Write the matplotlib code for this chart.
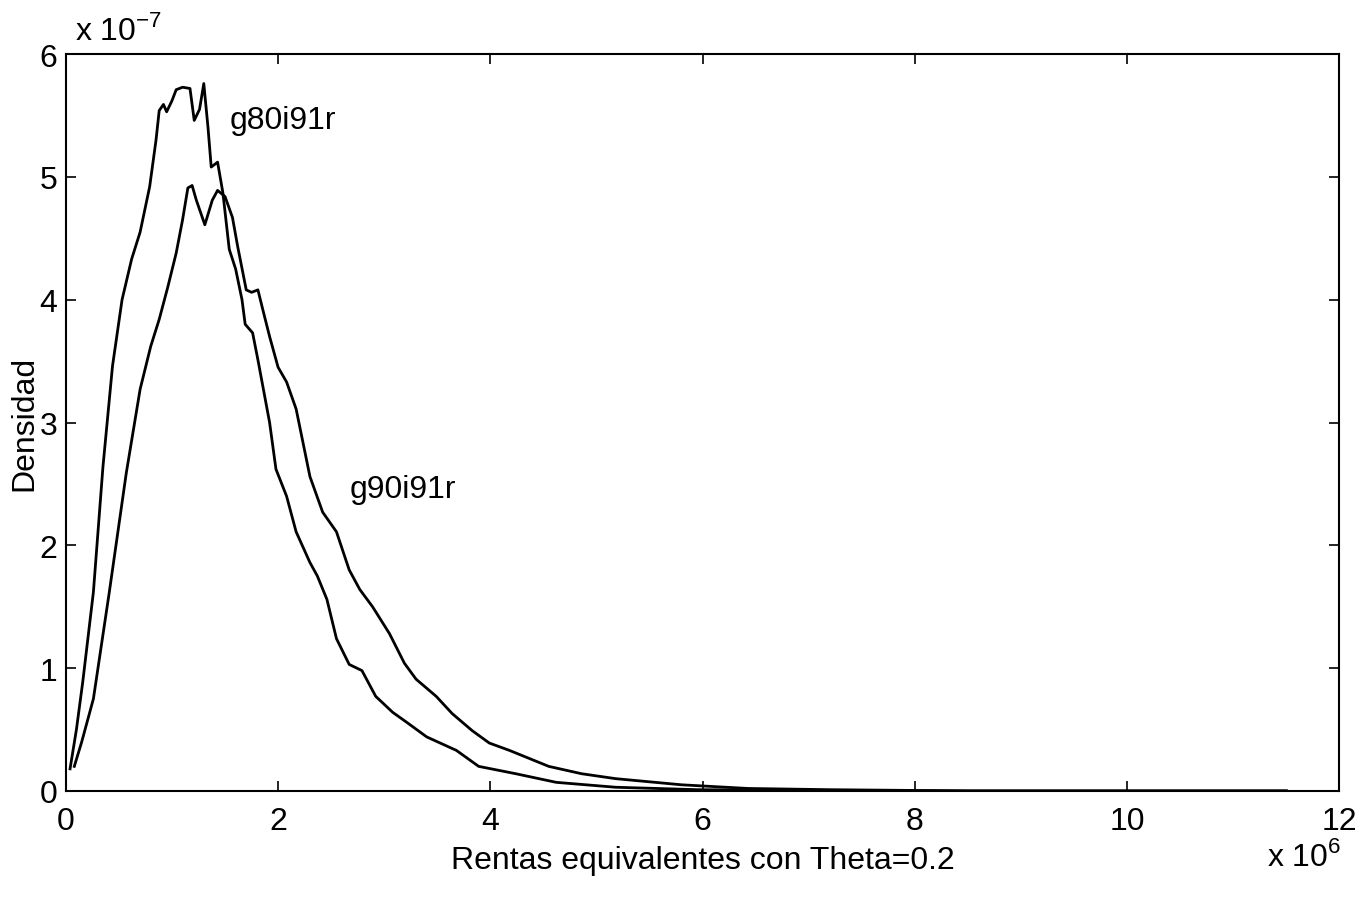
import matplotlib
matplotlib.use("Agg")
import matplotlib.pyplot as plt

plt.rcParams["font.family"] = ["Liberation Sans", "DejaVu Sans"]

# density curves (x in 1e6, y in 1e-7)
x_g80 = [0.04, 0.10, 0.16, 0.26, 0.35, 0.44, 0.53, 0.62, 0.70, 0.79, 0.85, 0.88,
         0.92, 0.95, 1.00, 1.04, 1.10, 1.17, 1.21, 1.26, 1.30, 1.34, 1.37, 1.43,
         1.48, 1.54, 1.60, 1.66, 1.69, 1.76, 1.81, 1.92, 1.98, 2.08, 2.17, 2.30,
         2.37, 2.46, 2.55, 2.67, 2.79, 2.92, 3.08, 3.21, 3.40, 3.68, 3.89, 4.24,
         4.62, 5.18, 5.96, 7.0, 8.5, 10.0, 11.5]
y_g80 = [0.18, 0.50, 0.89, 1.62, 2.64, 3.46, 4.00, 4.33, 4.55, 4.92, 5.30, 5.54,
         5.59, 5.53, 5.62, 5.71, 5.73, 5.72, 5.46, 5.55, 5.76, 5.40, 5.08, 5.12,
         4.87, 4.41, 4.25, 4.00, 3.80, 3.73, 3.51, 3.00, 2.62, 2.40, 2.11, 1.86,
         1.75, 1.56, 1.24, 1.03, 0.98, 0.77, 0.64, 0.56, 0.44, 0.33, 0.20, 0.14,
         0.07, 0.03, 0.01, 0.005, 0.0, 0.0, 0.0]

x_g90 = [0.08, 0.15, 0.26, 0.41, 0.57, 0.70, 0.80, 0.88, 0.96, 1.04, 1.10, 1.15,
         1.19, 1.23, 1.31, 1.38, 1.43, 1.50, 1.57, 1.62, 1.70, 1.75, 1.81, 1.85,
         1.92, 2.00, 2.08, 2.17, 2.30, 2.42, 2.55, 2.67, 2.77, 2.89, 3.05, 3.19,
         3.30, 3.49, 3.64, 3.83, 3.99, 4.18, 4.55, 4.86, 5.18, 5.80, 6.43, 7.2,
         8.5, 10.0, 11.5]
y_g90 = [0.20, 0.40, 0.75, 1.62, 2.59, 3.27, 3.62, 3.84, 4.10, 4.38, 4.65, 4.91,
         4.93, 4.81, 4.61, 4.81, 4.89, 4.84, 4.67, 4.43, 4.08, 4.06, 4.08, 3.94,
         3.70, 3.45, 3.33, 3.11, 2.56, 2.27, 2.11, 1.80, 1.64, 1.50, 1.28, 1.04,
         0.91, 0.77, 0.63, 0.49, 0.39, 0.33, 0.20, 0.14, 0.10, 0.05, 0.02, 0.01,
         0.0, 0.0, 0.0]

xticks = [0, 2, 4, 6, 8, 10, 12]
yticks = [0, 1, 2, 3, 4, 5, 6]

fig = plt.figure(figsize=(13.71, 9.03), dpi=100)
ax = fig.add_axes([0.048, 0.123, 0.929, 0.816])

ax.plot(x_g80, y_g80, color="black", linewidth=2.0)
ax.plot(x_g90, y_g90, color="black", linewidth=2.0)

ax.text(1.54, 5.46, "g80i91r", fontsize=23, va="center", ha="left")
ax.text(2.67, 2.46, "g90i91r", fontsize=23, va="center", ha="left")

ax.set_xlim(0, 12)
ax.set_ylim(0, 6)
ax.set_xticks(xticks)
ax.set_yticks(yticks)
ax.tick_params(direction="in", top=True, right=True, length=7, width=1.2,
               labelsize=23)
ax.tick_params(axis="x", pad=11)
ax.tick_params(axis="y", pad=6)
for s in ax.spines.values():
    s.set_linewidth(1.5)

ax.set_xlabel("Rentas equivalentes con Theta=0.2", fontsize=23, labelpad=6)
ax.set_ylabel("Densidad", fontsize=23, labelpad=0)

fig.text(0.055, 0.948, r"x 10$^{\mathregular{-7}}$", fontsize=23, ha="left", va="bottom")
fig.text(0.924, 0.033, r"x 10$^{\mathregular{6}}$", fontsize=23, ha="left", va="bottom")

fig.savefig("out.png", dpi=100)
